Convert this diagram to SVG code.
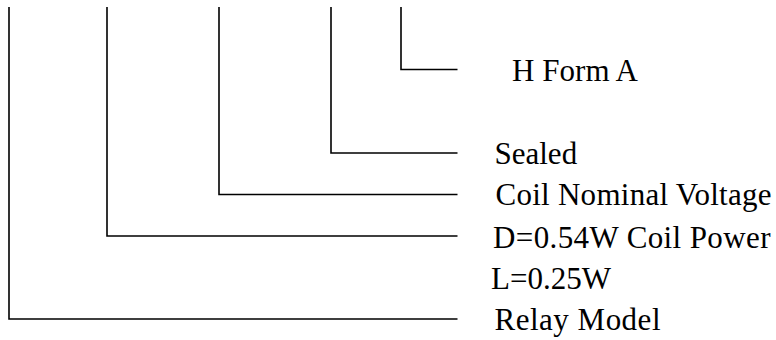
<svg xmlns="http://www.w3.org/2000/svg" width="776" height="340" viewBox="0 0 776 340">
<style>
.c{fill:none;stroke:#000;stroke-width:1.6}
.t{font-family:'Liberation Serif','Times New Roman',serif;font-size:31px;fill:#000}
</style>
<rect width="776" height="340" fill="#fff"/>
<g id="connectors">
<polyline class="c" points="401,7 401,69.5 457.5,69.5"/>
<polyline class="c" points="331,7 331,153 457.5,153"/>
<polyline class="c" points="219,7 219,194.5 457.5,194.5"/>
<polyline class="c" points="107,7 107,236 457.5,236"/>
<polyline class="c" points="9,7 9,319 457.5,319"/>
</g>
<g id="h-form-a"><text class="t" x="512" y="81" textLength="126" lengthAdjust="spacing">H Form A</text></g>
<g id="sealed"><text class="t" x="494.5" y="164">Sealed</text></g>
<g id="coil-nominal-voltage"><text class="t" x="495.5" y="205" textLength="276" lengthAdjust="spacing">Coil Nominal Voltage</text></g>
<g id="coil-power"><text class="t" x="493" y="248" textLength="277.5" lengthAdjust="spacing">D=0.54W Coil Power</text><text class="t" x="491" y="289">L=0.25W</text></g>
<g id="relay-model"><text class="t" x="494.5" y="330" textLength="166" lengthAdjust="spacing">Relay Model</text></g>
</svg>
